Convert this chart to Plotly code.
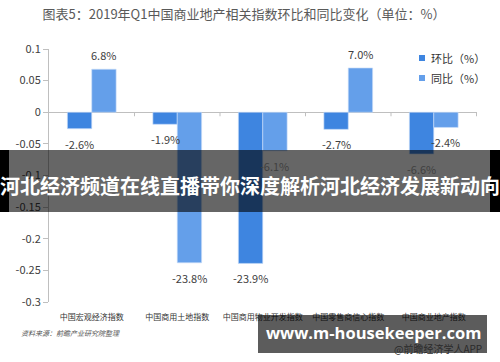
import plotly.graph_objects as go

categories = ["中国宏观经济指数", "中国商用土地指数", "中国商用物业开发指数", "中国零售商信心指数", "中国商业地产指数"]
hb_values = [-0.026, -0.019, -0.239, -0.027, -0.066]   # 环比
tb_values = [0.068, -0.238, -0.061, 0.070, -0.024]     # 同比
series_names = ["环比（%）", "同比（%）"]
ytick_vals = [0.1, 0.05, 0, -0.05, -0.1, -0.15, -0.2, -0.25, -0.3]
ytick_text = ["0.1", "0.05", "0", "-0.05", "-0.1", "-0.15", "-0.2", "-0.25", "-0.3"]

C1 = "#3e85e0"
C2 = "#649fea"
FONT = "Noto Sans CJK SC"

W, H = 500, 362
L, R, T, B = 49, 23, 49, 60
PW, PH = W - L - R, H - T - B
BARGAP = 0.43

def px(x):
    return (x - L) / PW

def py(y):
    return (H - B - y) / PH

def pct(v):
    return f"{v*100:.1f}%"

fig = go.Figure()
for name, vals, col in [(series_names[0], hb_values, C1), (series_names[1], tb_values, C2)]:
    fig.add_trace(go.Bar(
        x=categories, y=vals, name=name,
        marker=dict(color=col, line=dict(color="rgba(200,220,248,0.8)", width=0.8)),
        showlegend=False,
    ))

annotations = []
# value labels, positioned at each bar's centre on the category axis
bw = (1 - BARGAP) / 2
for k, vals in enumerate([hb_values, tb_values]):
    off = -bw / 2 if k == 0 else bw / 2
    for i, v in enumerate(vals):
        annotations.append(dict(xref="x", yref="y", x=i + off, y=v, text=pct(v), showarrow=False,
                                xanchor="center", yanchor="middle", yshift=14 if v >= 0 else -15,
                                font=dict(size=11, color="#404040", family=FONT)))

shapes = []
# small category boundary ticks on the zero line
for i in range(1, len(categories) + 1):
    shapes.append(dict(type="line", xref="x", yref="y", x0=i - 0.5, x1=i - 0.5,
                       ysizemode="pixel", yanchor=0, y0=0, y1=-4,
                       line=dict(color="#bfbfbf", width=1)))
# legend squares
for j, col in enumerate([C1, C2]):
    cy = 58 + 20 * j
    shapes.append(dict(type="rect", xref="paper", yref="paper",
                       x0=px(419), x1=px(425), y0=py(cy + 3), y1=py(cy - 3),
                       fillcolor=col, line=dict(width=0), layer="above"))
# overlay banner
shapes.append(dict(type="rect", xref="paper", yref="paper", x0=px(9), x1=px(490),
                   y0=py(212), y1=py(150), fillcolor="rgba(0,0,0,0.6)", line=dict(width=0), layer="above"))
shapes.append(dict(type="rect", xref="paper", yref="paper", x0=px(0), x1=px(9),
                   y0=py(212), y1=py(150), fillcolor="black", line=dict(width=0), layer="above"))
shapes.append(dict(type="rect", xref="paper", yref="paper", x0=px(490), x1=px(500),
                   y0=py(212), y1=py(150), fillcolor="black", line=dict(width=0), layer="above"))
# bottom banner
shapes.append(dict(type="rect", xref="paper", yref="paper", x0=px(258), x1=px(487),
                   y0=py(353), y1=py(315), fillcolor="rgba(0,0,0,0.64)", line=dict(width=0), layer="above"))

for j, name in enumerate(series_names):
    annotations.append(dict(xref="paper", yref="paper", x=px(429), y=py(58 + 20 * j),
                            xanchor="left", yanchor="middle", text=name, showarrow=False,
                            font=dict(size=11, color="#333333", family=FONT)))
annotations.append(dict(xref="paper", yref="paper", x=px(19), y=py(333), xanchor="left", yanchor="middle",
                        text="<i>资料来源：前瞻产业研究院整理</i>", showarrow=False,
                        font=dict(size=7, color="#555555", family=FONT)))
annotations.append(dict(xref="paper", yref="paper", x=px(250), y=py(185), xanchor="center", yanchor="middle",
                        text="<b>河北经济频道在线直播带你深度解析河北经济发展新动向</b>", showarrow=False,
                        font=dict(size=20, color="white", family=FONT)))
annotations.append(dict(xref="paper", yref="paper", x=px(373), y=py(332), xanchor="center", yanchor="middle",
                        text="<b>www.m-housekeeper.com</b>", showarrow=False,
                        font=dict(size=16.5, color="white", family="Open Sans")))
annotations.append(dict(xref="paper", yref="paper", x=px(484), y=py(348), xanchor="right", yanchor="middle",
                        text="@前瞻经济学人APP", showarrow=False,
                        font=dict(size=10, color="#2a2a2a", family=FONT)))

fig.update_layout(
    width=W, height=H, margin=dict(l=L, r=R, t=T, b=B, pad=0),
    paper_bgcolor="white", plot_bgcolor="white",
    barmode="group", bargap=BARGAP, bargroupgap=0,
    font=dict(family=FONT, color="#333333"),
    title=dict(text="图表5：2019年Q1中国商业地产相关指数环比和同比变化（单位：%）",
               x=0.488, xanchor="center", y=1 - 14 / H, yanchor="middle", yref="container",
               font=dict(size=13, color="#595959", family=FONT)),
    xaxis=dict(showgrid=False, showline=False, ticks="outside", ticklen=7, tickcolor="rgba(0,0,0,0)",
               tickfont=dict(size=8, color="#333333", family=FONT), tickangle=0),
    yaxis=dict(range=[-0.3, 0.1], tickvals=ytick_vals, ticktext=ytick_text, showgrid=False,
               showline=True, linecolor="#bfbfbf", linewidth=1, ticks="outside", ticklen=5,
               tickcolor="#bfbfbf", zeroline=True, zerolinecolor="#bfbfbf", zerolinewidth=1,
               tickfont=dict(size=11, color="#404040", family=FONT)),
    shapes=shapes, annotations=annotations, showlegend=False,
)

fig.write_html("out.html")
